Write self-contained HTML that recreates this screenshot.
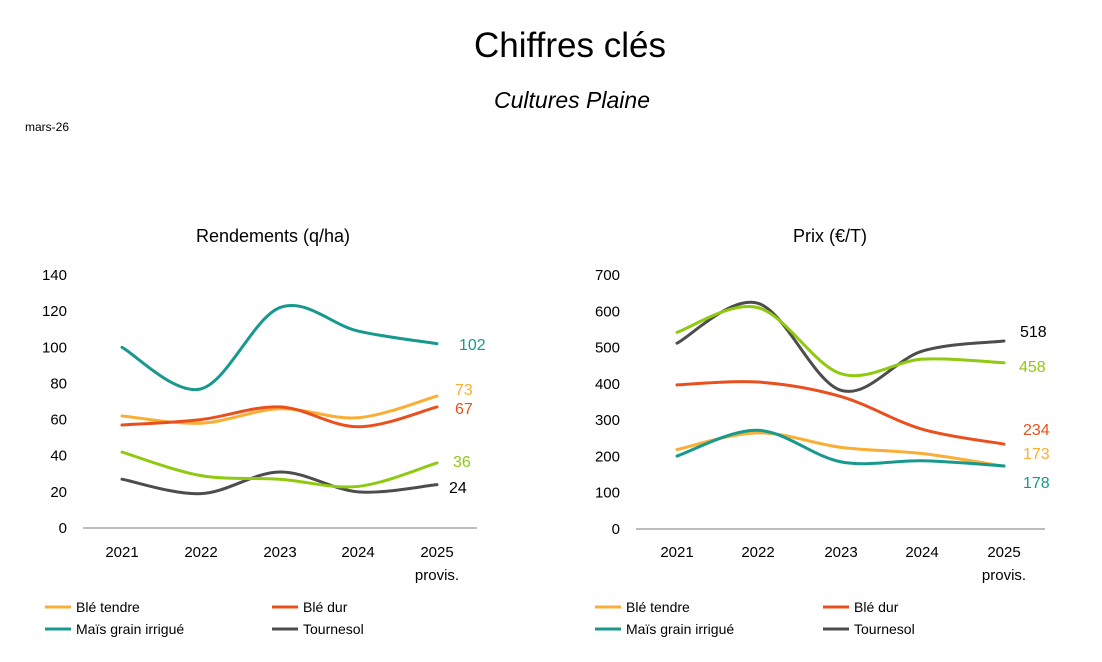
<!DOCTYPE html>
<html><head><meta charset="utf-8"><style>
body{margin:0;width:1102px;height:657px;background:#fff;font-family:"Liberation Sans",sans-serif;overflow:hidden}
</style></head><body>
<svg id="s" width="1102" height="657" xmlns="http://www.w3.org/2000/svg" font-family="Liberation Sans, sans-serif">
<text x="570" y="57" font-size="35" text-anchor="middle" fill="#000">Chiffres clés</text>
<text x="572" y="108" font-size="23" font-style="italic" text-anchor="middle" fill="#000">Cultures Plaine</text>
<text x="25" y="131" font-size="12" fill="#000">mars-26</text>
<text x="273" y="242" font-size="18" text-anchor="middle">Rendements (q/ha)</text>
<text x="830" y="242" font-size="18" text-anchor="middle">Prix (€/T)</text>
<line x1="83" y1="528" x2="477" y2="528" stroke="#a6a6a6" stroke-width="1.5"/>
<line x1="636" y1="529" x2="1045" y2="529" stroke="#a6a6a6" stroke-width="1.5"/>
<g id="g"></g>
</svg>
<script>
var g=document.getElementById('g'),NS='http://www.w3.org/2000/svg';
function el(t,a,txt){var e=document.createElementNS(NS,t);for(var k in a)e.setAttribute(k,a[k]);if(txt!=null)e.textContent=txt;g.appendChild(e);return e;}
var C={y:'#F9AE35',r:'#E9501E',t:'#17998E',g:'#8FC910',d:'#4D4D4D',k:'#000'};
function path(xs,ys){var p=xs.map(function(x,i){return[x,ys[i]]});var d='M'+p[0][0]+','+p[0][1];
for(var i=0;i<p.length-1;i++){var p0=p[i-1]||p[i],p1=p[i],p2=p[i+1],p3=p[i+2]||p2;var k=1/6;
d+=' C'+(p1[0]+(p2[0]-p0[0])*k)+','+(p1[1]+(p2[1]-p0[1])*k)+' '+(p2[0]-(p3[0]-p1[0])*k)+','+(p2[1]-(p3[1]-p1[1])*k)+' '+p2[0]+','+p2[1];}return d;}
function chart(xs,y0,sc,ticks,tx,series,labels){
ticks.forEach(function(v){el('text',{x:tx,y:y0-v*sc+5,'font-size':15,'text-anchor':'end'},String(v));});
var yrs=['2021','2022','2023','2024','2025'];
xs.forEach(function(x,i){el('text',{x:x,y:557,'font-size':15,'text-anchor':'middle'},yrs[i]);});
el('text',{x:xs[4],y:580,'font-size':15,'text-anchor':'middle'},'provis.');
series.forEach(function(s){el('path',{d:path(xs,s[1].map(function(v){return y0-v*sc})),fill:'none',stroke:C[s[0]],'stroke-width':3,'stroke-linecap':'round'});});
labels.forEach(function(l){el('text',{x:l[0],y:l[1],'font-size':16,fill:C[l[3]]},l[2]);});
}
chart([122,201,280,358,437],528,1.807,[0,20,40,60,80,100,120,140],67,[
['t',[100,77,122,109,102]],['y',[62,58,66,61,73]],['r',[57,60,67,56,67]],['d',[27,19,31,20,24]],['g',[42,29,27,23,36]]],
[[459,350,'102','t'],[455,395,'73','y'],[455,414,'67','r'],[453,467,'36','g'],[449,493,'24','k']]);
chart([677,758,841,922,1004],529,0.3629,[0,100,200,300,400,500,600,700],620,[
['y',[219,265,225,208,173]],['t',[201,272,185,188,174]],['r',[397,405,365,275,234]],['d',[512,622,382,490,518]],['g',[542,610,428,468,458]]],
[[1020,337,'518','k'],[1019,372,'458','g'],[1023,435,'234','r'],[1023,459,'173','y'],[1023,488,'178','t']]);
[[45,607,'Blé tendre','y'],[272,607,'Blé dur','r'],[45,629,'Maïs grain irrigué','t'],[272,629,'Tournesol','d'],
 [595,607,'Blé tendre','y'],[823,607,'Blé dur','r'],[595,629,'Maïs grain irrigué','t'],[823,629,'Tournesol','d']].forEach(function(l){
el('line',{x1:l[0],y1:l[1],x2:l[0]+26,y2:l[1],stroke:C[l[3]],'stroke-width':3});
el('text',{x:l[0]+31,y:l[1]+5,'font-size':14},l[2]);});
</script>
</body></html>
